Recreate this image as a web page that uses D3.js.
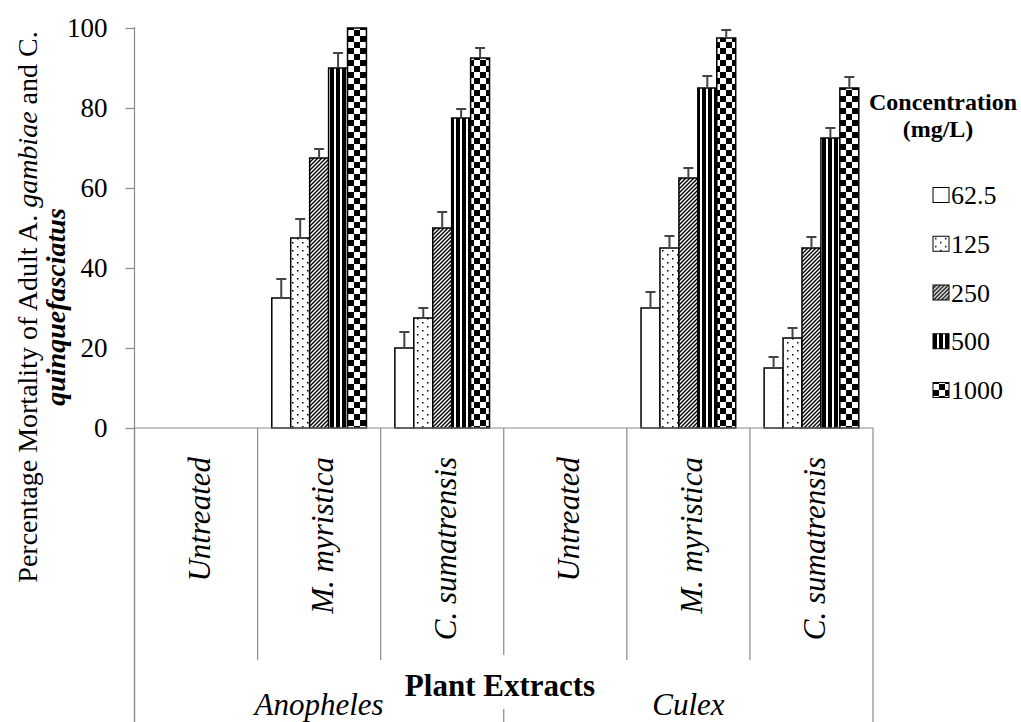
<!DOCTYPE html>
<html>
<head>
<meta charset="utf-8">
<script src="https://cdn.jsdelivr.net/npm/d3@7"></script>
<style>
  body { margin: 0; background: #fff; }
  svg text { font-family: "Liberation Serif", "Times New Roman", serif; fill: #000; }
</style>
</head>
<body>
<div id="chart"></div>
<script>
// data
var categories = ["Untreated", "M. myristica", "C. sumatrensis", "Untreated", "M. myristica", "C. sumatrensis"];
var groups = ["Anopheles", "Culex"];
var series = ["62.5", "125", "250", "500", "1000"];
var yTicks = [0, 20, 40, 60, 80, 100];

var v62 = [0, 32.5, 20, 0, 30, 15];
var v125 = [0, 47.5, 27.5, 0, 45, 22.5];
var v250 = [0, 67.5, 50, 0, 62.5, 45];
var v500 = [0, 90, 77.5, 0, 85, 72.5];
var v1000 = [0, 100, 92.5, 0, 97.5, 85];

var e62 = [0, 4.75, 4, 0, 4, 2.75];
var e125 = [0, 4.75, 2.5, 0, 3, 2.5];
var e250 = [0, 2.25, 4, 0, 2.5, 2.75];
var e500 = [0, 3.75, 2.25, 0, 3, 2.5];
var e1000 = [0, 0, 2.5, 0, 2, 2.75];

var values = [v62, v125, v250, v500, v1000];
var errors = [e62, e125, e250, e500, e1000];

function chart() {
  var w = 1021;
  var h = 722;
  var plotLeft = 134.5, plotRight = 873, plotTop = 28, plotBase = 428;
  var axisGrey = "#8a8a8a";
  var serif = "'Liberation Serif', 'Times New Roman', serif";

  const svg = d3
    .select("#chart")
    .append("svg")
    .attr("width", w)
    .attr("height", h)
    .attr("font-family", serif);

  svg.append("rect").attr("width", w).attr("height", h).attr("fill", "#fff");

  // fill patterns
  var defs = svg.append("defs");

  var pDots = defs.append("pattern").attr("id", "p125")
    .attr("patternUnits", "userSpaceOnUse").attr("width", 10).attr("height", 8);
  pDots.append("rect").attr("width", 10).attr("height", 8).attr("fill", "#fff");
  pDots.append("rect").attr("x", 2).attr("y", 2).attr("width", 1.5).attr("height", 1.5).attr("fill", "#000");
  pDots.append("rect").attr("x", 7).attr("y", 6).attr("width", 1.5).attr("height", 1.5).attr("fill", "#000");

  var pDiag = defs.append("pattern").attr("id", "p250")
    .attr("patternUnits", "userSpaceOnUse").attr("width", 4).attr("height", 4);
  pDiag.append("rect").attr("width", 4).attr("height", 4).attr("fill", "#fff");
  pDiag.append("path").attr("d", "M-1,1 l2,-2 M0,4 l4,-4 M3,5 l2,-2")
    .attr("stroke", "#000").attr("stroke-width", 1.4);

  var pVert = defs.append("pattern").attr("id", "p500")
    .attr("patternUnits", "userSpaceOnUse").attr("width", 6).attr("height", 6);
  pVert.append("rect").attr("width", 6).attr("height", 6).attr("fill", "#000");
  pVert.append("rect").attr("x", 4).attr("width", 2).attr("height", 6).attr("fill", "#fff");

  var pCheck = defs.append("pattern").attr("id", "p1000")
    .attr("patternUnits", "userSpaceOnUse").attr("width", 12).attr("height", 12);
  pCheck.append("rect").attr("width", 12).attr("height", 12).attr("fill", "#fff");
  pCheck.append("rect").attr("width", 6).attr("height", 6).attr("fill", "#000");
  pCheck.append("rect").attr("x", 6).attr("y", 6).attr("width", 6).attr("height", 6).attr("fill", "#000");

  var fills = ["#fff", "url(#p125)", "url(#p250)", "url(#p500)", "url(#p1000)"];

  // scales
  var x0 = d3.scaleBand().domain(d3.range(categories.length)).range([plotLeft, plotRight]).padding(0);
  var x1 = d3.scaleBand().domain(series).range([0, x0.bandwidth()]).paddingInner(0).paddingOuter(0.75);
  var y = d3.scaleLinear().domain([0, 100]).range([plotBase, plotTop]);

  // category separators (inner ones stop above the group labels)
  var bounds = d3.range(categories.length + 1).map(function (i) {
    return i < categories.length ? x0(i) : plotRight;
  });
  svg.append("g").selectAll("line")
    .data(bounds)
    .enter()
    .append("line")
    .attr("x1", function (d) { return d; })
    .attr("x2", function (d) { return d; })
    .attr("y1", plotBase)
    .attr("y2", function (d, i) { return (i % 3 === 0) ? h : 660; })
    .attr("stroke", axisGrey)
    .attr("stroke-width", 1.2);

  // bars
  var rows = [];
  values.forEach(function (vals, s) {
    vals.forEach(function (v, c) {
      rows.push({ s: s, c: c, v: v, e: errors[s][c] });
    });
  });
  var shown = rows.filter(function (d) { return d.v > 0; });

  svg.append("g").selectAll("rect")
    .data(shown)
    .enter()
    .append("rect")
    .attr("x", function (d) { return x0(d.c) + x1(series[d.s]); })
    .attr("y", function (d) { return y(d.v); })
    .attr("width", x1.bandwidth())
    .attr("height", function (d) { return y(0) - y(d.v); })
    .attr("fill", function (d) { return fills[d.s]; })
    .attr("stroke", "#000")
    .attr("stroke-width", 1.5);

  // error bars (upper only)
  var eb = svg.append("g").attr("stroke", "#444").attr("stroke-width", 2);
  shown.filter(function (d) { return d.e > 0; }).forEach(function (d) {
    var cx = x0(d.c) + x1(series[d.s]) + x1.bandwidth() / 2;
    eb.append("line").attr("x1", cx).attr("x2", cx).attr("y1", y(d.v)).attr("y2", y(d.v + d.e));
    eb.append("line").attr("x1", cx - 5).attr("x2", cx + 5).attr("y1", y(d.v + d.e)).attr("y2", y(d.v + d.e));
  });

  // y axis
  var yAxis = d3.axisLeft(y).tickValues(yTicks).tickSize(9).tickSizeOuter(0).tickPadding(18);
  var gy = svg.append("g")
    .attr("transform", "translate(" + plotLeft + ",0)")
    .call(yAxis)
    .attr("font-family", serif)
    .attr("font-size", 27);
  gy.select(".domain").remove();
  gy.selectAll(".tick line").attr("stroke", axisGrey).attr("stroke-width", 1.2);
  gy.selectAll(".tick text").attr("fill", "#000");

  svg.append("line").attr("x1", plotLeft).attr("x2", plotLeft).attr("y1", plotTop - 1).attr("y2", h)
    .attr("stroke", axisGrey).attr("stroke-width", 1.2);
  svg.append("line").attr("x1", plotLeft).attr("x2", plotRight).attr("y1", plotBase).attr("y2", plotBase)
    .attr("stroke", axisGrey).attr("stroke-width", 1.2);

  // category labels
  svg.append("g").selectAll("text")
    .data(categories)
    .enter()
    .append("text")
    .attr("transform", function (d, i) {
      return "translate(" + (x0(i) + x0.bandwidth() / 2 + 13.5) + ",457) rotate(-90)";
    })
    .attr("text-anchor", "end")
    .style("font-size", "31px")
    .style("font-style", "italic")
    .text(function (d) { return d; });

  // group labels
  svg.append("g").selectAll("text")
    .data(groups)
    .enter()
    .append("text")
    .attr("x", function (d, i) { return (bounds[i * 3] + bounds[i * 3 + 3]) / 2; })
    .attr("y", 715)
    .attr("text-anchor", "middle")
    .style("font-size", "31px")
    .style("font-style", "italic")
    .text(function (d) { return d; });

  // x axis title, white box hides the group separator
  svg.append("rect").attr("x", 398).attr("y", 655).attr("width", 205).attr("height", 54).attr("fill", "#fff");
  svg.append("text")
    .attr("x", 500)
    .attr("y", 696)
    .attr("text-anchor", "middle")
    .style("font-size", "31px")
    .style("font-weight", "bold")
    .text("Plant Extracts");

  // y axis title
  var yt = svg.append("text")
    .attr("transform", "translate(37,307) rotate(-90)")
    .attr("text-anchor", "middle")
    .style("font-size", "28px");
  var l1 = yt.append("tspan").attr("x", 0).attr("y", 0);
  l1.append("tspan").text("Percentage Mortality of Adult A. ");
  l1.append("tspan").style("font-style", "italic").text("gambiae");
  l1.append("tspan").text(" and C.");
  yt.append("tspan").attr("x", 0).attr("y", 28)
    .style("font-style", "italic").style("font-weight", "bold")
    .text("quinquefasciatus");

  // legend
  svg.append("text").attr("x", 943).attr("y", 110).attr("text-anchor", "middle")
    .style("font-size", "24px").style("font-weight", "bold").text("Concentration");
  svg.append("text").attr("x", 938).attr("y", 137).attr("text-anchor", "middle")
    .style("font-size", "24px").style("font-weight", "bold").text("(mg/L)");

  var legend = svg.append("g").selectAll("g")
    .data(series)
    .enter()
    .append("g")
    .attr("transform", function (d, i) { return "translate(933," + (195 + i * 48.75) + ")"; });
  legend.append("rect")
    .attr("x", 0).attr("y", -7.5).attr("width", 16).attr("height", 15)
    .attr("fill", function (d, i) { return fills[i]; })
    .attr("stroke", "#000").attr("stroke-width", 1);
  legend.append("text")
    .attr("x", 18).attr("y", 9)
    .style("font-size", "26px")
    .text(function (d) { return d; });
}

chart();
</script>
</body>
</html>
